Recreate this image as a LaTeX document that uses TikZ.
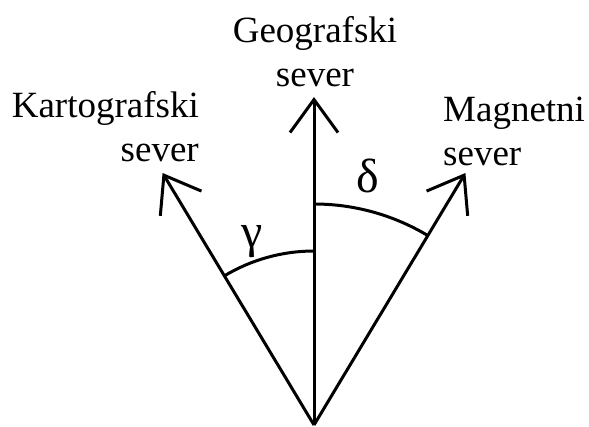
\documentclass[tikz,border=0pt]{standalone}
\usepackage{fontspec}
\setmainfont{Liberation Serif}
\usetikzlibrary{positioning,arrows.meta,calc}

\begin{document}
\begin{tikzpicture}[
    x=1pt, y=1pt,
    label/.style={inner sep=0pt, font=\fontsize{37}{44}\selectfont},
    greek/.style={inner sep=0pt, font=\fontsize{48}{52}\selectfont},
    north/.style={-{Straight Barb[length=33pt, width=48pt]}, line width=3pt},
    angle/.style={line width=3pt}
]
\useasboundingbox (0,0) rectangle (589,426);

\coordinate (origin) at (314,1);
\coordinate (geo) at ($(origin)+(90:328)$);
\coordinate (kart) at ($(origin)+(121:294)$);
\coordinate (mag) at ($(origin)+(59:294)$);

\node[label, anchor=south, align=center] (geotext) at (315,339) {Geografski\\sever};
\node[label, anchor=south east, align=right] (karttext) at (199,264) {Kartografski\\sever};
\node[label, anchor=south west, align=left] (magtext) at (443,260) {Magnetni\\sever};

\draw[north] (origin) -- (geo);
\draw[north] (origin) -- (kart);
\draw[north] (origin) -- (mag);

% angles between the norths
\draw[angle] ($(origin)+(0,174)$) arc[start angle=90, end angle=121, radius=174];
\draw[angle] ($(origin)+(0,221)$) arc[start angle=90, end angle=59, radius=221];

\node[greek] (gamma) at (252,184) {γ};
\node[greek] (delta) at (368,250) {δ};
\end{tikzpicture}
\end{document}
